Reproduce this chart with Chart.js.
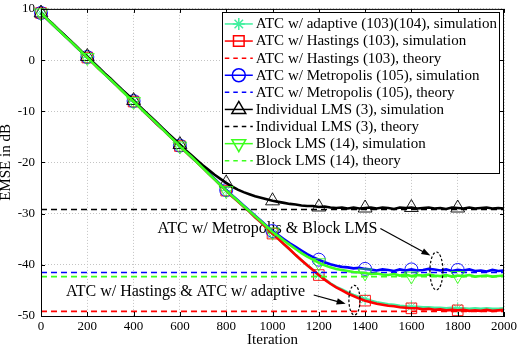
<!DOCTYPE html>
<html>
<head>
<meta charset="utf-8">
<script src="https://cdn.jsdelivr.net/npm/chart.js@4.4.0/dist/chart.umd.min.js"></script>
<style>
  html, body { margin: 0; padding: 0; background: #fff; }
</style>
</head>
<body>
<canvas id="emse" width="517" height="346"></canvas>
<script>
const iterations = [0,25,50,75,100,125,150,175,200,225,250,275,300,325,350,375,400,425,450,475,500,525,550,575,600,625,650,675,700,725,750,775,800,825,850,875,900,925,950,975,1000,1025,1050,1075,1100,1125,1150,1175,1200,1225,1250,1275,1300,1325,1350,1375,1400,1425,1450,1475,1500,1525,1550,1575,1600,1625,1650,1675,1700,1725,1750,1775,1800,1825,1850,1875,1900,1925,1950,1975,2000];

const adaptiveSim = [9.2,8.1,7.0,5.9,4.9,3.8,2.7,1.6,0.5,-0.6,-1.7,-2.7,-3.8,-4.9,-6.0,-7.0,-8.1,-9.2,-10.3,-11.4,-12.5,-13.5,-14.6,-15.7,-16.8,-17.9,-19.0,-20.0,-21.1,-22.2,-23.3,-24.4,-25.5,
  -26.6,-27.6,-28.6,-29.6,-30.7,-31.7,-32.8,-33.9,
  -34.9,-36.0,-37.0,-38.1,-39.1,-40.1,-41.0,-42.0,-42.8,-43.6,
  -44.3,-44.8,-45.4,-45.9,-46.3,-46.7,-47.0,-47.3,-47.5,-47.7,
  -47.8,-48.0,-48.1,-48.2,-48.2,-48.3,-48.3,-48.4,-48.4,-48.5,
  -48.4,-48.5,-48.5,-48.6,-48.5,-48.6,-48.5,-48.6,-48.6,-48.5];

const hastingsSim = [9.2,8.1,7.0,5.9,4.9,3.8,2.7,1.6,0.5,-0.6,-1.7,-2.7,-3.8,-4.9,-6.0,-7.0,-8.1,-9.2,-10.3,-11.4,-12.5,-13.5,-14.6,-15.7,-16.8,-17.9,-19.0,-20.0,-21.1,-22.2,-23.3,-24.4,-25.5,
  -26.6,-27.6,-28.6,-29.6,-30.7,-31.7,-32.8,-33.9,
  -34.9,-36.0,-37.0,-38.1,-39.1,-40.1,-41.0,-42.0,-42.9,-43.7,
  -44.4,-45.0,-45.6,-46.1,-46.6,-47.0,-47.3,-47.6,-47.8,-48.0,
  -48.1,-48.3,-48.4,-48.5,-48.5,-48.7,-48.6,-48.8,-48.7,-48.9,
  -48.8,-48.9,-48.8,-49.0,-48.9,-49.0,-48.8,-49.0,-48.9,-48.8];

const metropolisSim = [9.2,8.1,7.0,5.9,4.9,3.8,2.7,1.6,0.6,-0.5,-1.6,-2.7,-3.8,-4.8,-5.9,-7.0,-8.0,-9.1,-10.2,-11.3,-12.4,-13.4,-14.5,-15.6,-16.7,-17.8,-18.9,-19.9,-21.0,-22.1,-23.2,-24.3,-25.4,
  -26.4,-27.4,-28.4,-29.4,-30.4,-31.4,-32.4,-33.4,
  -34.2,-35.0,-35.8,-36.5,-37.2,-37.9,-38.5,-39.0,-39.5,-39.9,
  -40.2,-40.4,-40.5,-40.7,-40.6,-40.8,-40.9,-41.1,-40.9,-41.0,
  -41.2,-40.9,-41.1,-40.9,-41.1,-41.0,-40.8,-40.9,-41.1,-40.9,
  -41.2,-41.0,-41.1,-40.9,-41.2,-41.1,-41.3,-41.0,-41.2,-41.1];

const individualSim = [9.2,8.1,7.1,6.0,4.9,3.9,2.8,1.7,0.7,-0.4,-1.5,-2.6,-3.6,-4.7,-5.8,-6.8,-7.9,-9.0,-10.1,-11.1,-12.2,-13.3,-14.4,-15.4,-16.5,
  -17.6,-18.6,-19.6,-20.6,-21.5,-22.4,-23.2,-24.0,-24.7,-25.3,-25.8,-26.2,-26.6,-26.9,-27.2,-27.5,
  -27.7,-27.9,-28.1,-28.2,-28.4,-28.5,-28.5,-28.7,-28.6,-28.8,
  -28.9,-28.8,-29.0,-28.8,-29.0,-28.9,-28.8,-29.0,-28.8,-28.9,
  -29.1,-28.8,-28.9,-28.8,-29.0,-28.9,-28.8,-29.0,-28.9,-29.1,
  -28.8,-28.9,-29.0,-28.8,-29.0,-28.9,-28.8,-29.0,-28.9,-29.0];

const blockSim = [9.2,8.1,7.0,5.9,4.8,3.8,2.7,1.6,0.5,-0.6,-1.7,-2.8,-3.8,-4.9,-6.0,-7.1,-8.1,-9.2,-10.3,-11.3,-12.4,-13.5,-14.6,-15.7,-16.8,-17.9,-18.9,-20.0,-21.1,-22.2,-23.3,-24.4,-25.5,
  -26.5,-27.5,-28.5,-29.5,-30.5,-31.5,-32.5,-33.6,
  -34.4,-35.3,-36.1,-36.9,-37.7,-38.4,-39.0,-39.6,-40.1,-40.5,
  -40.8,-41.0,-41.2,-41.4,-41.5,-41.6,-41.8,-41.7,-41.9,-42.0,
  -41.8,-42.1,-41.9,-42.2,-42.0,-42.1,-41.9,-42.1,-42.2,-42.0,
  -42.3,-42.1,-42.2,-42.0,-42.3,-42.2,-42.1,-42.3,-42.2,-42.1];

// steady-state theory levels, drawn across the whole run
const theoryIters = [0, 2000];
const hastingsTheory = [-49.1, -49.1];
const metropolisTheory = [-41.5, -41.5];
const individualTheory = [-29.2, -29.2];
const blockTheory = [-42.3, -42.3];

const markerIters = [0, 200, 400, 600, 800, 1000, 1200, 1400, 1600, 1800];
const xTicks = [0, 200, 400, 600, 800, 1000, 1200, 1400, 1600, 1800, 2000];
const yTicks = [-50, -40, -30, -20, -10, 0, 10];

// annotations, in data units (iteration, dB)
const noteTexts = ['ATC w/ Metropolis & Block LMS', 'ATC w/ Hastings & ATC w/ adaptive'];
const noteAt = [[978, -33.0], [624, -45.3]];
const arrowFrom = [[1466, -32.9], [1178, -45.9]];
const arrowTo = [[1682, -38.2], [1316, -47.6]];
const ringAt = [[1708, -41.2], [1354, -46.9]];
const ringHalf = [[28, 3.7], [24, 2.9]];

// --- styling ---
const SERIF = "'Liberation Serif', 'Times New Roman', serif";
const MINT = '#40ef9e';
const GREEN = '#3cff1e';

const legendRows = [
  { label: 'ATC w/ adaptive (103)(104), simulation', x: iterations, y: adaptiveSim, color: MINT, marker: 'star', r: 6 },
  { label: 'ATC w/ Hastings (103), simulation', x: iterations, y: hastingsSim, color: '#ff0000', marker: 'rect', r: 7.5 },
  { label: 'ATC w/ Hastings (103), theory', x: theoryIters, y: hastingsTheory, color: '#ff0000', dashed: true },
  { label: 'ATC w/ Metropolis (105), simulation', x: iterations, y: metropolisSim, color: '#0000ff', marker: 'circle', r: 6.5 },
  { label: 'ATC w/ Metropolis (105), theory', x: theoryIters, y: metropolisTheory, color: '#0000ff', dashed: true },
  { label: 'Individual LMS (3), simulation', x: iterations, y: individualSim, color: '#000000', marker: 'triangle', r: 8 },
  { label: 'Individual LMS (3), theory', x: theoryIters, y: individualTheory, color: '#000000', dashed: true },
  { label: 'Block LMS (14), simulation', x: iterations, y: blockSim, color: GREEN, marker: 'triangle', rot: 180, r: 8 },
  { label: 'Block LMS (14), theory', x: theoryIters, y: blockTheory, color: GREEN, dashed: true },
];

const datasets = legendRows.map((row, i) => ({
  label: row.label,
  data: row.x.map((x, k) => ({ x, y: row.y[k] })),
  borderColor: row.color,
  borderWidth: row.dashed ? 1.6 : 2.6,
  borderDash: row.dashed ? [6, 4] : [],
  pointStyle: row.marker || 'circle',
  rotation: row.rot || 0,
  pointRadius: ctx => (row.marker && markerIters.includes(ctx.raw && ctx.raw.x)) ? row.r : 0,
  pointBorderColor: row.color,
  pointBackgroundColor: 'rgba(0,0,0,0)',
  pointBorderWidth: 0.9,
  tension: 0,
  clip: false,
  order: -i,   // later rows are drawn on top, as in the original plot order
}));

function drawArrow(ctx, x0, y0, x1, y1) {
  const a = Math.atan2(y1 - y0, x1 - x0);
  const len = 9, half = 3.2;
  ctx.beginPath();
  ctx.moveTo(x0, y0);
  ctx.lineTo(x1 - Math.cos(a) * len * 0.8, y1 - Math.sin(a) * len * 0.8);
  ctx.stroke();
  ctx.beginPath();
  ctx.moveTo(x1, y1);
  ctx.lineTo(x1 - Math.cos(a) * len - Math.sin(a) * half, y1 - Math.sin(a) * len + Math.cos(a) * half);
  ctx.lineTo(x1 - Math.cos(a) * len + Math.sin(a) * half, y1 - Math.sin(a) * len - Math.cos(a) * half);
  ctx.closePath();
  ctx.fill();
}

const notesPlugin = {
  id: 'notes',
  beforeDatasetsDraw(chart) {
    const { ctx, scales: { x, y } } = chart;
    ctx.save();
    ctx.fillStyle = '#000';
    ctx.strokeStyle = '#000';
    ctx.font = '16px ' + SERIF;
    ctx.textAlign = 'center';
    ctx.textBaseline = 'middle';
    noteTexts.forEach((t, i) => {
      ctx.fillText(t, x.getPixelForValue(noteAt[i][0]), y.getPixelForValue(noteAt[i][1]));
    });
    ctx.lineWidth = 1.2;
    noteTexts.forEach((t, i) => {
      drawArrow(ctx,
        x.getPixelForValue(arrowFrom[i][0]), y.getPixelForValue(arrowFrom[i][1]),
        x.getPixelForValue(arrowTo[i][0]), y.getPixelForValue(arrowTo[i][1]));
    });
    ctx.restore();
  },
  afterDatasetsDraw(chart) {
    const { ctx, scales: { x, y } } = chart;
    ctx.save();
    ctx.strokeStyle = '#000';
    ctx.lineWidth = 1.2;
    ctx.setLineDash([2.5, 2]);
    ringAt.forEach((c, i) => {
      const cx = x.getPixelForValue(c[0]), cy = y.getPixelForValue(c[1]);
      const rx = x.getPixelForValue(c[0] + ringHalf[i][0]) - cx;
      const ry = cy - y.getPixelForValue(c[1] + ringHalf[i][1]);
      ctx.beginPath();
      ctx.ellipse(cx, cy, rx, ry, 0, 0, Math.PI * 2);
      ctx.stroke();
    });
    ctx.restore();
  },
  afterDraw(chart) {
    const { ctx, chartArea: a, scales: { x, y } } = chart;
    ctx.save();
    // box and inward ticks
    ctx.strokeStyle = '#000';
    ctx.lineWidth = 1;
    ctx.strokeRect(a.left + 0.5, a.top + 0.5, a.right - a.left - 1, a.bottom - a.top);
    ctx.beginPath();
    xTicks.forEach(v => {
      const px = Math.round(x.getPixelForValue(v)) + 0.5;
      ctx.moveTo(px, a.bottom); ctx.lineTo(px, a.bottom - 4);
      ctx.moveTo(px, a.top); ctx.lineTo(px, a.top + 4);
    });
    yTicks.forEach(v => {
      const py = Math.round(y.getPixelForValue(v)) + 0.5;
      ctx.moveTo(a.left, py); ctx.lineTo(a.left + 4, py);
      ctx.moveTo(a.right, py); ctx.lineTo(a.right - 4, py);
    });
    ctx.stroke();

    // legend: line + marker samples like the original figure
    ctx.font = '15px ' + SERIF;
    const rowH = 17.1;
    const textW = Math.max(...legendRows.map(r => ctx.measureText(r.label).width));
    const right = a.right - 5, top = a.top + 3;
    const left = right - (34 + textW + 2);
    const height = rowH * legendRows.length + 7;
    ctx.fillStyle = '#fff';
    ctx.fillRect(left, top, right - left, height);
    ctx.strokeStyle = '#000';
    ctx.strokeRect(Math.round(left) + 0.5, Math.round(top) + 0.5, Math.round(right - left), Math.round(height));
    legendRows.forEach((row, i) => {
      const cy = top + 3.5 + rowH * (i + 0.5);
      ctx.strokeStyle = row.color;
      ctx.lineWidth = 1.5;
      ctx.setLineDash(row.dashed ? [4.5, 4] : []);
      ctx.beginPath();
      ctx.moveTo(left + 3, cy);
      ctx.lineTo(left + 31, cy);
      ctx.stroke();
      ctx.setLineDash([]);
      if (row.marker) {
        ctx.fillStyle = 'rgba(0,0,0,0)';
        Chart.helpers.drawPoint(ctx, { pointStyle: row.marker, rotation: row.rot || 0, radius: row.r, borderWidth: 1.5 }, left + 17, cy);
      }
      ctx.fillStyle = '#000';
      ctx.textAlign = 'left';
      ctx.textBaseline = 'middle';
      ctx.fillText(row.label, left + 34, cy + 0.5);
    });
    ctx.restore();
  }
};

const tickFont = { family: SERIF, size: 13 };
const titleFont = { family: SERIF, size: 15, lineHeight: 0.8 };

// keep the plot area where the original has it: no label overhang padding
function fixAxis(size) {
  return s => {
    if (s.isHorizontal()) s.height = size; else s.width = size;
    s.paddingTop = 0; s.paddingBottom = 0; s.paddingLeft = 0; s.paddingRight = 0;
  };
}

new Chart(document.getElementById('emse'), {
  type: 'line',
  data: { datasets },
  plugins: [notesPlugin],
  options: {
    responsive: false,
    animation: false,
    events: [],
    layout: { padding: { top: 8, right: 13, left: 0, bottom: 0 } },
    plugins: { legend: { display: false }, tooltip: { enabled: false } },
    scales: {
      x: {
        type: 'linear', min: 0, max: 2000,
        afterBuildTicks: s => { s.ticks = xTicks.map(v => ({ value: v })); },
        afterFit: fixAxis(30),
        ticks: { font: tickFont, color: '#000', padding: 3, maxRotation: 0, autoSkip: false, callback: v => String(v) },
        grid: { color: '#c4c4c4', lineWidth: 1, drawTicks: false },
        border: { display: true, color: '#000', dash: [1, 2] },
        title: { display: true, text: 'Iteration', font: titleFont, color: '#000', padding: { top: 0, bottom: 0 } },
      },
      y: {
        type: 'linear', min: -50, max: 10,
        afterBuildTicks: s => { s.ticks = yTicks.map(v => ({ value: v })); },
        afterFit: fixAxis(41),
        ticks: { font: tickFont, color: '#000', padding: 6, callback: v => String(v) },
        grid: { color: '#c4c4c4', lineWidth: 1, drawTicks: false },
        border: { display: true, color: '#000', dash: [1, 2] },
        title: { display: true, text: 'EMSE in dB', font: titleFont, color: '#000', padding: { top: 0, bottom: 0 } },
      },
    },
  },
});
</script>
</body>
</html>
